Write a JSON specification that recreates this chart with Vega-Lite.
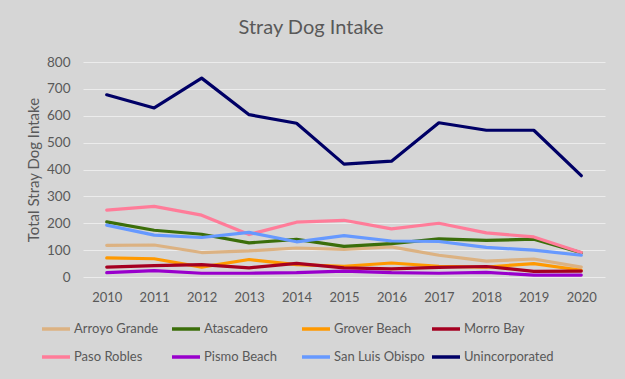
{
  "$schema": "https://vega.github.io/schema/vega-lite/v6.json",
  "width": 522,
  "height": 215,
  "autosize": {"type": "none"},
  "padding": {"left": 83, "top": 62, "right": 20, "bottom": 102},
  "background": "#d6d6d6",
  "title": {
    "text": "Stray Dog Intake",
    "font": "Lato",
    "fontSize": 20,
    "fontWeight": "normal",
    "color": "#595959",
    "anchor": "middle",
    "frame": "group",
    "offset": 17,
    "dx": -33
  },
  "config": {
    "view": {"stroke": null},
    "font": "Lato"
  },
  "data": {
    "values": [
      {"year": "2010", "city": "Arroyo Grande", "v": 118},
      {"year": "2011", "city": "Arroyo Grande", "v": 119},
      {"year": "2012", "city": "Arroyo Grande", "v": 91},
      {"year": "2013", "city": "Arroyo Grande", "v": 97},
      {"year": "2014", "city": "Arroyo Grande", "v": 108},
      {"year": "2015", "city": "Arroyo Grande", "v": 103},
      {"year": "2016", "city": "Arroyo Grande", "v": 112},
      {"year": "2017", "city": "Arroyo Grande", "v": 81},
      {"year": "2018", "city": "Arroyo Grande", "v": 59},
      {"year": "2019", "city": "Arroyo Grande", "v": 67},
      {"year": "2020", "city": "Arroyo Grande", "v": 37},
      {"year": "2010", "city": "Atascadero", "v": 205},
      {"year": "2011", "city": "Atascadero", "v": 174},
      {"year": "2012", "city": "Atascadero", "v": 159},
      {"year": "2013", "city": "Atascadero", "v": 127},
      {"year": "2014", "city": "Atascadero", "v": 140},
      {"year": "2015", "city": "Atascadero", "v": 114},
      {"year": "2016", "city": "Atascadero", "v": 124},
      {"year": "2017", "city": "Atascadero", "v": 142},
      {"year": "2018", "city": "Atascadero", "v": 136},
      {"year": "2019", "city": "Atascadero", "v": 141},
      {"year": "2020", "city": "Atascadero", "v": 90},
      {"year": "2010", "city": "Grover Beach", "v": 71},
      {"year": "2011", "city": "Grover Beach", "v": 68},
      {"year": "2012", "city": "Grover Beach", "v": 37},
      {"year": "2013", "city": "Grover Beach", "v": 65},
      {"year": "2014", "city": "Grover Beach", "v": 46},
      {"year": "2015", "city": "Grover Beach", "v": 40},
      {"year": "2016", "city": "Grover Beach", "v": 52},
      {"year": "2017", "city": "Grover Beach", "v": 40},
      {"year": "2018", "city": "Grover Beach", "v": 37},
      {"year": "2019", "city": "Grover Beach", "v": 50},
      {"year": "2020", "city": "Grover Beach", "v": 25},
      {"year": "2010", "city": "Morro Bay", "v": 37},
      {"year": "2011", "city": "Morro Bay", "v": 42},
      {"year": "2012", "city": "Morro Bay", "v": 46},
      {"year": "2013", "city": "Morro Bay", "v": 34},
      {"year": "2014", "city": "Morro Bay", "v": 51},
      {"year": "2015", "city": "Morro Bay", "v": 34},
      {"year": "2016", "city": "Morro Bay", "v": 30},
      {"year": "2017", "city": "Morro Bay", "v": 36},
      {"year": "2018", "city": "Morro Bay", "v": 39},
      {"year": "2019", "city": "Morro Bay", "v": 21},
      {"year": "2020", "city": "Morro Bay", "v": 22},
      {"year": "2010", "city": "Paso Robles", "v": 249},
      {"year": "2011", "city": "Paso Robles", "v": 263},
      {"year": "2012", "city": "Paso Robles", "v": 230},
      {"year": "2013", "city": "Paso Robles", "v": 158},
      {"year": "2014", "city": "Paso Robles", "v": 204},
      {"year": "2015", "city": "Paso Robles", "v": 211},
      {"year": "2016", "city": "Paso Robles", "v": 179},
      {"year": "2017", "city": "Paso Robles", "v": 200},
      {"year": "2018", "city": "Paso Robles", "v": 164},
      {"year": "2019", "city": "Paso Robles", "v": 149},
      {"year": "2020", "city": "Paso Robles", "v": 91},
      {"year": "2010", "city": "Pismo Beach", "v": 16},
      {"year": "2011", "city": "Pismo Beach", "v": 24},
      {"year": "2012", "city": "Pismo Beach", "v": 14},
      {"year": "2013", "city": "Pismo Beach", "v": 14},
      {"year": "2014", "city": "Pismo Beach", "v": 16},
      {"year": "2015", "city": "Pismo Beach", "v": 22},
      {"year": "2016", "city": "Pismo Beach", "v": 16},
      {"year": "2017", "city": "Pismo Beach", "v": 14},
      {"year": "2018", "city": "Pismo Beach", "v": 17},
      {"year": "2019", "city": "Pismo Beach", "v": 7},
      {"year": "2020", "city": "Pismo Beach", "v": 7},
      {"year": "2010", "city": "San Luis Obispo", "v": 193},
      {"year": "2011", "city": "San Luis Obispo", "v": 156},
      {"year": "2012", "city": "San Luis Obispo", "v": 147},
      {"year": "2013", "city": "San Luis Obispo", "v": 166},
      {"year": "2014", "city": "San Luis Obispo", "v": 131},
      {"year": "2015", "city": "San Luis Obispo", "v": 154},
      {"year": "2016", "city": "San Luis Obispo", "v": 134},
      {"year": "2017", "city": "San Luis Obispo", "v": 132},
      {"year": "2018", "city": "San Luis Obispo", "v": 110},
      {"year": "2019", "city": "San Luis Obispo", "v": 100},
      {"year": "2020", "city": "San Luis Obispo", "v": 81},
      {"year": "2010", "city": "Unincorporated", "v": 678},
      {"year": "2011", "city": "Unincorporated", "v": 629},
      {"year": "2012", "city": "Unincorporated", "v": 740},
      {"year": "2013", "city": "Unincorporated", "v": 604},
      {"year": "2014", "city": "Unincorporated", "v": 572},
      {"year": "2015", "city": "Unincorporated", "v": 420},
      {"year": "2016", "city": "Unincorporated", "v": 431},
      {"year": "2017", "city": "Unincorporated", "v": 574},
      {"year": "2018", "city": "Unincorporated", "v": 546},
      {"year": "2019", "city": "Unincorporated", "v": 546},
      {"year": "2020", "city": "Unincorporated", "v": 377}
    ]
  },
  "mark": {"type": "line", "strokeWidth": 3.2, "strokeJoin": "round", "strokeCap": "round"},
  "encoding": {
    "x": {
      "field": "year",
      "type": "ordinal",
      "scale": {"type": "point", "padding": 0.5},
      "axis": {
        "title": null,
        "labelAngle": 0,
        "labelFontSize": 13,
        "labelColor": "#595959",
        "labelPadding": 14,
        "ticks": false,
        "domain": false,
        "grid": false
      }
    },
    "y": {
      "field": "v",
      "type": "quantitative",
      "scale": {"domain": [0, 800], "nice": false},
      "axis": {
        "title": "Total Stray Dog Intake",
        "titleFontSize": 15,
        "titleFontWeight": "normal",
        "titleColor": "#595959",
        "titlePadding": 5,
        "values": [0, 100, 200, 300, 400, 500, 600, 700, 800],
        "labelFontSize": 13.5,
        "labelColor": "#595959",
        "labelPadding": 13,
        "ticks": false,
        "domain": false,
        "gridColor": "#ececec",
        "gridWidth": 1
      }
    },
    "color": {
      "field": "city",
      "type": "nominal",
      "scale": {
        "domain": ["Arroyo Grande", "Atascadero", "Grover Beach", "Morro Bay", "Paso Robles", "Pismo Beach", "San Luis Obispo", "Unincorporated"],
        "range": ["#dcb282", "#3b6e0a", "#ff9900", "#a50021", "#ff7c99", "#9900cc", "#6699ff", "#000066"]
      },
      "legend": {
        "title": null,
        "orient": "none",
        "legendX": -43,
        "legendY": 251,
        "direction": "horizontal",
        "columns": 4,
        "gridAlign": "all",
        "columnPadding": 0,
        "rowPadding": 5,
        "symbolType": "stroke",
        "symbolSize": 784,
        "symbolStrokeWidth": 3.5,
        "labelFontSize": 13,
        "labelColor": "#595959",
        "labelOffset": 2,
        "labelLimit": 110
      }
    }
  }
}
